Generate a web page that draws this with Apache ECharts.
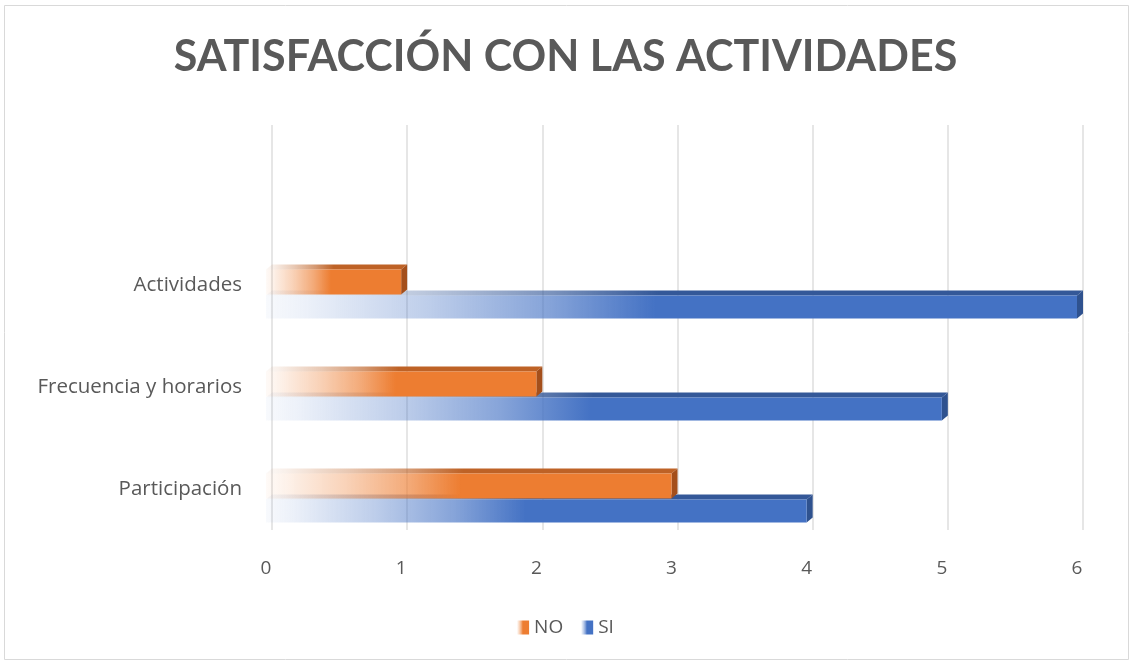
<!DOCTYPE html>
<html><head><meta charset="utf-8">
<script src="https://cdn.jsdelivr.net/npm/echarts@6/dist/echarts.min.js"></script>
<style>html,body{margin:0;padding:0;background:#fff}#c{width:1131px;height:662px}</style>
</head><body><div id="c"></div>
<script>
const categories = ['Participación', 'Frecuencia y horarios', 'Actividades'];
const noValues = [3, 2, 1];
const siValues = [4, 5, 6];
const xTicks = [0, 1, 2, 3, 4, 5, 6];

const chart = echarts.init(document.getElementById('c'));
function grad(r, g, b) {
  return new echarts.graphic.LinearGradient(0, 0, 1, 0, [
    {offset: 0, color: `rgba(${r},${g},${b},0.04)`},
    {offset: 0.05, color: `rgba(${r},${g},${b},0.10)`},
    {offset: 0.2, color: `rgba(${r},${g},${b},0.35)`},
    {offset: 0.35, color: `rgba(${r},${g},${b},0.65)`},
    {offset: 0.48, color: `rgba(${r},${g},${b},1)`},
    {offset: 1, color: `rgba(${r},${g},${b},1)`}
  ]);
}
const DX = 6, DY = 5;
function makeRender(top, bottom, front, topC, sideC) {
  return function (params, api) {
    const v = api.value(0), ci = api.value(1);
    const p0 = api.coord([0, ci]);
    const p1 = api.coord([v, ci]);
    const y0 = p0[1] + top, y1 = p0[1] + bottom;
    const x0 = p0[0], x1 = p1[0];
    return {
      type: 'group',
      children: [
        {type: 'polygon', shape: {points: [[x0, y0], [x0 + DX, y0 - DY], [x1 + DX, y0 - DY], [x1, y0]]},
         style: {fill: topC}},
        {type: 'polygon', shape: {points: [[x1, y0], [x1 + DX, y0 - DY], [x1 + DX, y1 - DY], [x1, y1]]},
         style: {fill: sideC}},
        {type: 'rect', shape: {x: x0, y: y0, width: x1 - x0, height: y1 - y0},
         style: {fill: front}}
      ]
    };
  };
}
const LBL = 'Open Sans';
const option = {
  animation: false,
  title: {
    text: 'SATISFACCIÓN CON LAS ACTIVIDADES',
    left: 'center', top: 31,
    textStyle: {fontFamily: 'Lato', fontWeight: 'bold', fontSize: 43, color: '#595959'}
  },
  legend: {
    data: ['NO', 'SI'], bottom: 20, left: 'center',
    itemWidth: 12, itemHeight: 14, itemGap: 18, icon: 'rect',
    textStyle: {fontFamily: LBL, fontSize: 19, color: '#595959'}
  },
  grid: [
    {left: 266, right: 54, top: 234.5, bottom: 121.5},
    {left: 272, right: 48, top: 125, bottom: 132}
  ],
  xAxis: [
    {gridIndex: 0, type: 'value', min: 0, max: 6, interval: 1,
     axisLine: {show: false}, axisTick: {show: false}, splitLine: {show: false},
     axisLabel: {margin: 19, color: '#595959', fontFamily: LBL, fontSize: 19,
       formatter: v => String(xTicks[v])}},
    {gridIndex: 1, type: 'value', min: 0, max: 6, interval: 1,
     axisLine: {show: false}, axisTick: {show: false}, axisLabel: {show: false},
     splitLine: {lineStyle: {color: '#e6e6e6', width: 2}}}
  ],
  yAxis: [
    {gridIndex: 0, type: 'category', data: categories,
     axisLine: {show: false}, axisTick: {show: false},
     axisLabel: {margin: 24, color: '#595959', fontFamily: LBL, fontSize: 20.5}},
    {gridIndex: 1, type: 'value', show: false, min: 0, max: 1}
  ],
  graphic: [{type: 'rect', shape: {x: 4.5, y: 5.5, width: 1124, height: 654},
    style: {fill: 'none', stroke: '#d9d9d9', lineWidth: 1}, z: -1}],
  series: [
    {name: 'SI', type: 'custom', xAxisIndex: 0, yAxisIndex: 0, clip: false, z: 2,
     itemStyle: {color: grad(68, 114, 196)},
     encode: {x: 0, y: 1},
     data: siValues.map((v, i) => [v, i]),
     renderItem: makeRender(10, 33, grad(68, 114, 196), grad(52, 88, 152), '#2f528f')},
    {name: 'NO', type: 'custom', xAxisIndex: 0, yAxisIndex: 0, clip: false, z: 3,
     itemStyle: {color: grad(237, 125, 49)},
     encode: {x: 0, y: 1},
     data: noValues.map((v, i) => [v, i]),
     renderItem: makeRender(-16, 9, grad(237, 125, 49), grad(190, 98, 38), '#a44f1b')}
  ]
};
chart.setOption(option);
</script></body></html>
